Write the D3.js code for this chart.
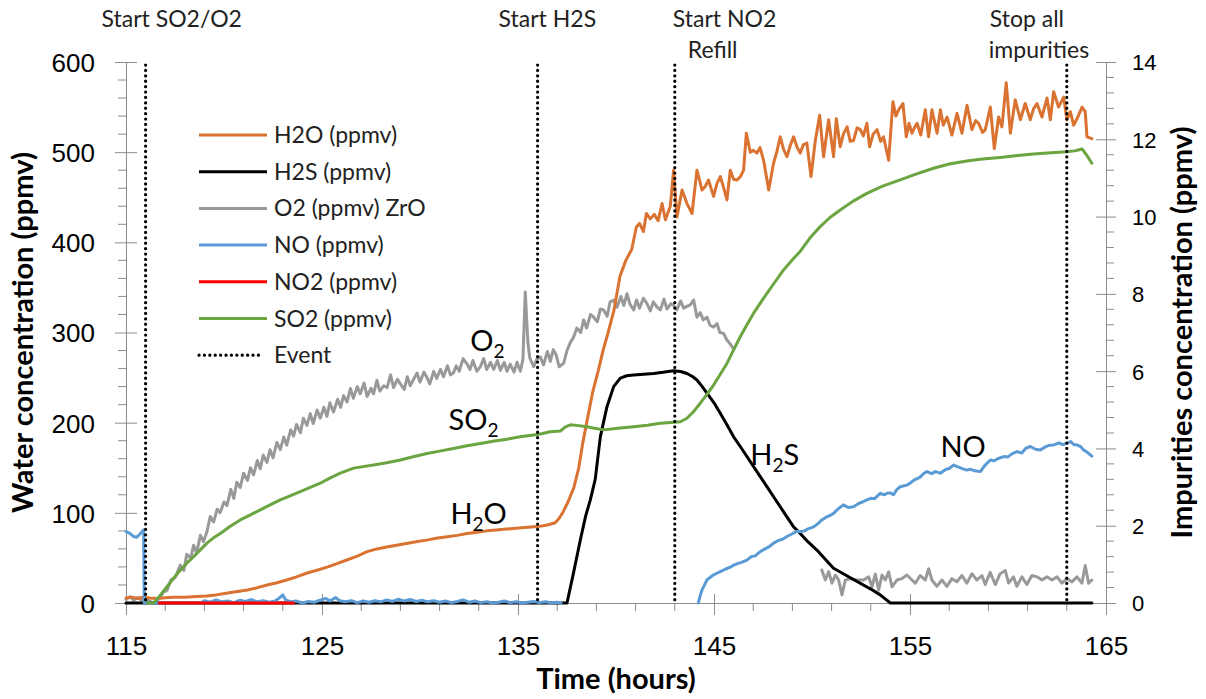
<!DOCTYPE html>
<html><head><meta charset="utf-8">
<script src="https://cdn.jsdelivr.net/npm/d3@7"></script>
<style>
html,body{margin:0;padding:0;background:#fff;}
svg{display:block;font-family:Lato,"Open Sans",sans-serif;}
</style></head><body>
<svg id="chart" width="1206" height="699"></svg>
<script>
// ---------------- DATA ----------------
const xTicks = [115, 125, 135, 145, 155, 165];
const leftTicks = [0, 100, 200, 300, 400, 500, 600];
const rightTicks = [0, 2, 4, 6, 8, 10, 12, 14];
const eventTimes = [116, 136, 143, 163];
const eventLabels = [["Start SO2/O2"], ["Start H2S"], ["Start NO2", "Refill"], ["Stop all", "impurities"]];
const legendNames = ["H2O (ppmv)", "H2S (ppmv)", "O2 (ppmv) ZrO", "NO (ppmv)", "NO2 (ppmv)", "SO2 (ppmv)", "Event"];

// H2O, ppmv (left axis)
const H2O = [[115.0,5.5],[115.3,6.5],[115.6,5.0],[115.9,6.8],[116.2,5.5],[116.6,5.0],[117.0,5.8],[117.4,6.3],[118.0,6.5],[118.6,7.2],[119.1,7.8],[119.6,9.0],[120.1,10.8],[120.6,12.5],[121.2,14.4],[121.7,17],[122.2,20],[122.7,22.5],[123.2,25.5],[123.7,29],[124.2,33],[124.7,36],[125.3,40],[125.8,44],[126.3,48],[126.8,52],[127.3,57],[127.8,60],[128.3,62],[128.8,64],[129.3,66],[129.8,68],[130.4,70],[130.9,72],[131.4,73.5],[131.9,75],[132.4,77],[132.9,78.5],[133.4,80],[133.9,81],[134.4,82],[134.9,83],[135.5,84],[136.1,85],[136.5,86.5],[136.9,89],[137.1,94],[137.3,101],[137.55,112],[137.85,128],[138.1,150],[138.3,177],[138.55,205],[138.8,233],[139.1,258],[139.35,281],[139.6,300],[139.9,325],[140.2,362],[140.5,380],[140.8,392],[141.04,417],[141.2,421],[141.4,412],[141.55,432],[141.75,426],[141.95,431],[142.15,424],[142.35,443],[142.52,425],[142.77,440],[142.94,480],[143.11,428],[143.37,458],[143.62,443],[143.88,432],[144.13,480],[144.39,458],[144.55,462],[144.72,469],[144.98,451],[145.15,465],[145.32,473],[145.5,460],[145.66,447],[145.83,480],[146.0,470],[146.17,469],[146.35,473],[146.51,480],[146.65,521],[146.85,500],[147.0,502],[147.19,499],[147.35,505],[147.53,491],[147.79,458],[148.04,488],[148.2,500],[148.38,517],[148.55,503],[148.72,495],[148.9,508],[149.06,517],[149.25,505],[149.4,499],[149.55,508],[149.74,510],[149.95,473],[150.17,513],[150.39,541],[150.59,495],[150.85,536],[151.1,495],[151.24,537],[151.44,506],[151.6,520],[151.79,528],[151.95,512],[152.12,513],[152.3,527],[152.46,525],[152.62,518],[152.8,532],[152.94,506],[153.12,520],[153.32,525],[153.5,512],[153.65,517],[153.91,491],[154.13,556],[154.28,540],[154.42,547],[154.64,554],[154.81,517],[154.95,532],[155.1,521],[155.25,528],[155.36,532],[155.55,519],[155.78,547],[155.95,517],[156.12,547],[156.38,521],[156.55,547],[156.7,530],[156.89,539],[157.14,519],[157.4,543],[157.65,521],[157.91,552],[158.16,525],[158.35,535],[158.5,532],[158.7,522],[158.84,525],[159.1,550],[159.3,504],[159.52,539],[159.69,528],[159.91,577],[160.12,521],[160.37,558],[160.63,536],[160.88,554],[161.14,536],[161.3,548],[161.48,554],[161.73,539],[161.99,560],[162.16,536],[162.33,567],[162.58,550],[162.84,561],[163.01,536],[163.18,545],[163.35,530],[163.52,537],[163.78,550],[163.94,545],[164.03,517],[164.28,515]];

// O2, ppmv (left axis); null = no data
const O2 = [[115.0,4],[115.2,7],[115.4,3],[115.6,6],[115.8,3],[116.0,5],[116.2,2],[116.4,0],[116.7,5],[116.9,12],[117.09,14],[117.3,26],[117.5,28],[117.77,42],[117.95,36],[118.1,54],[118.3,50],[118.45,64],[118.6,56],[118.8,75],[118.95,68],[119.13,79],[119.3,96],[119.47,90],[119.65,104],[119.8,100],[120.0,112],[120.15,108],[120.35,126],[120.5,116],[120.65,134],[120.83,128],[121.0,144],[121.2,136],[121.35,150],[121.51,142],[121.7,158],[121.85,149],[122.0,164],[122.19,156],[122.35,170],[122.5,161],[122.7,178],[122.87,170],[123.05,184],[123.2,175],[123.4,192],[123.55,185],[123.7,198],[123.9,189],[124.05,205],[124.23,197],[124.4,210],[124.55,199],[124.75,214],[124.91,205],[125.1,217],[125.25,207],[125.4,222],[125.59,212],[125.8,226],[125.95,217],[126.1,230],[126.28,223],[126.45,238],[126.6,227],[126.8,240],[126.95,232],[127.15,244],[127.3,229],[127.5,238],[127.63,232],[127.8,247],[127.95,235],[128.15,241],[128.32,239],[128.5,253],[128.65,239],[128.85,248],[129.0,243],[129.2,237],[129.35,251],[129.5,241],[129.67,248],[129.85,255],[130.0,245],[130.2,256],[130.36,250],[130.5,243],[130.7,257],[130.85,249],[131.04,259],[131.2,251],[131.4,263],[131.55,253],[131.7,255],[131.85,263],[132.0,257],[132.2,271],[132.4,265],[132.55,259],[132.7,269],[132.9,257],[133.08,262],[133.25,271],[133.4,259],[133.6,267],[133.76,259],[133.95,269],[134.1,258],[134.3,267],[134.44,257],[134.6,265],[134.8,256],[134.95,267],[135.12,257],[135.25,270],[135.37,345],[135.5,290],[135.6,272],[135.8,262],[135.95,270],[136.14,273],[136.3,264],[136.5,279],[136.65,268],[136.8,281],[136.95,275],[137.1,262],[137.33,266],[137.5,280],[137.65,288],[137.84,295],[138.0,305],[138.2,300],[138.35,314],[138.5,305],[138.7,320],[138.86,317],[139.05,312],[139.2,326],[139.37,325],[139.55,318],[139.7,334],[139.88,336],[140.05,328],[140.25,340],[140.4,330],[140.56,343],[140.72,331],[140.9,325],[141.05,336],[141.2,327],[141.4,338],[141.58,332],[141.75,324],[141.9,334],[142.1,328],[142.26,325],[142.45,337],[142.6,326],[142.8,332],[142.94,330],[143.1,325],[143.3,335],[143.45,327],[143.62,329],[143.8,331],[143.96,336],[144.13,317],[144.3,322],[144.45,314],[144.64,317],[144.8,308],[144.98,306],[145.15,310],[145.3,300],[145.49,299],[145.65,292],[145.8,288],[146.0,282],[148.0,null],
[150.5,36.6],[150.68,25.5],[150.85,34.8],[151.02,22],[151.19,31],[151.36,25.5],[151.53,9],[151.7,25.5],[151.95,27],[152.29,25.5],[152.63,25.5],[152.89,29],[153.06,18],[153.23,32],[153.4,14.5],[153.57,31],[153.74,25.5],[153.91,34.5],[154.08,18],[154.33,25.5],[154.59,27],[154.84,31],[155.1,25.5],[155.27,22],[155.52,30.5],[155.78,25.5],[155.95,38],[156.12,25.5],[156.37,18.5],[156.63,25.5],[156.88,18.5],[157.14,27],[157.39,23.5],[157.65,30.5],[157.9,22],[158.16,32.5],[158.41,25.5],[158.67,30.5],[158.84,20.5],[159.09,34],[159.35,20.5],[159.6,32.5],[159.86,36],[160.03,22],[160.28,29],[160.45,18.5],[160.71,29],[160.96,20.5],[161.22,30.5],[161.48,29],[161.73,25.5],[161.99,29],[162.24,25.5],[162.5,29],[162.75,22],[163.01,27],[163.26,23.5],[163.52,29],[163.77,22],[163.94,41.5],[164.11,22],[164.28,25.5]];

// H2S, ppmv (right axis)
const H2S = [[115,0],[137.5,0],[137.84,0.8],[138.18,1.63],[138.45,2.25],[138.69,2.67],[138.94,3.2],[139.2,4.3],[139.54,5.08],[139.88,5.6],[140.22,5.82],[140.55,5.88],[140.9,5.9],[141.4,5.92],[141.92,5.94],[142.4,5.97],[142.94,6.01],[143.3,5.99],[143.62,5.94],[143.9,5.86],[144.13,5.77],[144.4,5.6],[144.64,5.43],[145.0,5.18],[145.32,4.91],[145.66,4.61],[146.0,4.3],[146.34,4.05],[146.68,3.79],[147.02,3.53],[147.36,3.27],[147.7,3.01],[148.04,2.75],[148.55,2.36],[149.06,1.97],[149.4,1.8],[149.8,1.58],[150.25,1.37],[150.7,1.12],[151.1,0.9],[151.8,0.7],[152.46,0.51],[153.0,0.36],[153.48,0.21],[153.75,0.1],[154.0,0],[164.28,0]];

// NO, ppmv (right axis); null = no data
const NO = [[115.0,1.85],[115.2,1.8],[115.39,1.72],[115.55,1.7],[115.7,1.78],[115.9,1.89],[115.93,0],[118.8,0],[119.0,0.06],[119.3,0.02],[119.6,0.08],[119.9,0.03],[120.2,0.05],[120.5,0.01],[120.8,0.07],[121.1,0.04],[121.4,0.09],[121.7,0.03],[122.0,0.06],[122.3,0.02],[122.6,0.05],[122.8,0.12],[123.0,0.21],[123.15,0.08],[123.4,0.03],[123.7,0.05],[124.0,0.0],[124.3,0.04],[124.6,0.02],[124.9,0.07],[125.2,0.12],[125.4,0.05],[125.7,0.14],[125.9,0.06],[126.2,0.03],[126.5,0.06],[126.8,0.01],[127.1,0.05],[127.4,0.02],[127.7,0.06],[128.0,0.03],[128.3,0.08],[128.6,0.04],[128.9,0.1],[129.2,0.05],[129.5,0.09],[129.8,0.04],[130.1,0.07],[130.4,0.03],[130.7,0.06],[131.0,0.02],[131.3,0.05],[131.6,0.01],[131.9,0.04],[132.2,0.08],[132.5,0.02],[132.8,0.05],[133.1,0.01],[133.4,0.03],[133.7,0.0],[134.0,0.02],[134.3,0.05],[134.6,0.01],[134.9,0.03],[135.2,0.0],[135.5,0.02],[135.8,0.04],[136.1,0.01],[136.4,0.03],[136.7,0.0],[137.0,0.02],[137.2,0],[140,null],
[144.2,0],[144.3,0.2],[144.39,0.34],[144.5,0.45],[144.64,0.6],[144.8,0.66],[144.95,0.72],[145.15,0.77],[145.35,0.82],[145.6,0.88],[145.8,0.92],[146.0,0.98],[146.2,1.02],[146.4,1.05],[146.68,1.11],[146.9,1.2],[147.1,1.22],[147.36,1.33],[147.6,1.4],[147.8,1.45],[148.04,1.55],[148.3,1.62],[148.5,1.65],[148.72,1.72],[148.95,1.78],[149.2,1.85],[149.4,1.85],[149.6,1.86],[149.8,1.92],[150.08,1.97],[150.3,2.05],[150.5,2.15],[150.76,2.23],[150.9,2.26],[151.1,2.32],[151.3,2.42],[151.45,2.48],[151.6,2.54],[151.85,2.47],[152.12,2.49],[152.4,2.58],[152.6,2.62],[152.8,2.67],[153.0,2.71],[153.2,2.7],[153.48,2.84],[153.7,2.8],[153.83,2.84],[154.0,2.85],[154.16,2.8],[154.3,2.92],[154.5,3.01],[154.84,3.05],[155.0,3.1],[155.2,3.18],[155.5,3.25],[155.7,3.35],[155.87,3.4],[156.1,3.35],[156.3,3.4],[156.55,3.36],[156.8,3.45],[157.0,3.48],[157.23,3.57],[157.45,3.52],[157.7,3.47],[157.9,3.44],[158.1,3.46],[158.3,3.42],[158.59,3.4],[158.8,3.55],[159.1,3.7],[159.3,3.68],[159.5,3.74],[159.78,3.79],[160.0,3.78],[160.2,3.86],[160.46,3.92],[160.7,3.88],[160.9,4.0],[161.14,4.05],[161.4,3.98],[161.65,3.96],[161.9,4.04],[162.1,4.08],[162.33,4.09],[162.6,4.14],[162.8,4.1],[163.0,4.13],[163.2,4.18],[163.35,4.1],[163.5,4.09],[163.7,4.05],[163.86,3.96],[164.05,3.9],[164.28,3.8]];

// NO2, ppmv (right axis)
const NO2 = [[116.7,0],[120.0,0],[123.55,0]];

// SO2, ppmv (right axis)
const SO2 = [[116.1,0],[116.41,0],[116.75,0.2],[117.09,0.42],[117.43,0.64],[117.77,0.85],[118.1,1.03],[118.45,1.2],[118.8,1.38],[119.13,1.55],[119.45,1.68],[119.81,1.8],[120.3,1.98],[120.83,2.15],[121.35,2.28],[121.85,2.41],[122.35,2.54],[122.87,2.67],[123.4,2.78],[123.89,2.88],[124.4,2.99],[124.91,3.1],[125.4,3.23],[125.93,3.36],[126.61,3.49],[127.63,3.57],[128.3,3.63],[129.0,3.7],[129.7,3.79],[130.36,3.87],[131.0,3.93],[131.71,4.0],[132.4,4.07],[133.08,4.13],[133.8,4.19],[134.44,4.24],[135.1,4.3],[135.8,4.35],[136.2,4.38],[136.65,4.43],[137.16,4.45],[137.4,4.55],[137.67,4.61],[138.1,4.59],[138.52,4.56],[138.9,4.52],[139.37,4.48],[140.1,4.52],[140.9,4.56],[141.6,4.6],[142.26,4.65],[143.0,4.68],[143.28,4.69],[143.62,4.78],[143.95,4.95],[144.3,5.17],[144.64,5.4],[144.98,5.64],[145.32,5.92],[145.66,6.2],[146.0,6.55],[146.34,6.89],[146.68,7.2],[147.02,7.5],[147.36,7.76],[147.7,8.01],[148.1,8.3],[148.55,8.62],[149.0,8.88],[149.4,9.1],[149.9,9.45],[150.42,9.74],[150.9,9.97],[151.44,10.17],[152.1,10.4],[152.8,10.6],[153.6,10.79],[154.5,10.95],[155.3,11.1],[156.2,11.25],[157.0,11.36],[157.9,11.44],[158.7,11.49],[159.6,11.53],[160.5,11.58],[161.3,11.62],[162.2,11.65],[163.0,11.68],[163.4,11.7],[163.78,11.75],[164.0,11.6],[164.28,11.38]];

// in-plot annotations: [time, left-axis value of baseline, main text, subscript, trailing text]
const annotations = [[132.57, 279, "O", "2", ""], [131.46, 192, "SO", "2", ""], [131.55, 88, "H", "2", "O"], [146.85, 153, "H", "2", "S"], [156.55, 162, "NO", "", ""]];

// ---------------- CHART ----------------
const colors = {H2O:"#DA7331", H2S:"#000000", O2:"#999999", NO:"#5B9BD5", NO2:"#FF0000", SO2:"#6AA541"};
const svg = d3.select("#chart");
const L = 126, R = 1106, T = 62, B = 603;
const x = d3.scaleLinear().domain([115,165]).range([L,R]);
const yL = d3.scaleLinear().domain([0,600]).range([B,T]);
const yR = d3.scaleLinear().domain([0,14]).range([B,T]);
const axisColor = "#8c8c8c";

// minor ticks
const xMinor = d3.range(115,165.001,2).filter(v => !xTicks.includes(v));
const lMinor = d3.range(0,600.001,20).filter(v => !leftTicks.includes(Math.round(v)));
const rMinor = d3.range(0,14.001,0.4).filter(v => Math.abs(v/2 - Math.round(v/2)) > 0.01);

const gx = svg.append("g").attr("transform",`translate(0,${B})`)
  .call(d3.axisBottom(x).tickValues(xTicks).tickSize(12).tickSizeOuter(0).tickFormat(d3.format("d")));
gx.select(".domain").attr("stroke",axisColor);
gx.selectAll(".tick line").attr("stroke",axisColor).attr("y1",-9);
gx.selectAll(".tick text").attr("font-size",26).attr("fill","#000").attr("dy",0).attr("y",52);
gx.selectAll(".minor").data(xMinor).enter().append("line")
  .attr("x1",d=>x(d)).attr("x2",d=>x(d)).attr("y1",0).attr("y2",8).attr("stroke",axisColor);

const gl = svg.append("g").attr("transform",`translate(${L},0)`)
  .call(d3.axisLeft(yL).tickValues(leftTicks).tickSize(11).tickSizeOuter(0));
gl.select(".domain").attr("stroke",axisColor);
gl.selectAll(".tick line").attr("stroke",axisColor).attr("x1",11);
gl.selectAll(".tick text").attr("font-size",26).attr("fill","#000").attr("x",-31).attr("dy","0.36em");
gl.selectAll(".minor").data(lMinor).enter().append("line")
  .attr("x1",-8).attr("x2",0).attr("y1",d=>yL(d)).attr("y2",d=>yL(d)).attr("stroke",axisColor);

const gr = svg.append("g").attr("transform",`translate(${R},0)`)
  .call(d3.axisRight(yR).tickValues(rightTicks).tickSize(10).tickSizeOuter(0));
gr.select(".domain").attr("stroke",axisColor);
gr.selectAll(".tick line").attr("stroke",axisColor).attr("x1",-10);
gr.selectAll(".tick text").attr("font-size",22).attr("fill","#000").attr("x",26).attr("dy","0.36em");
gr.selectAll(".minor").data(rMinor).enter().append("line")
  .attr("x1",0).attr("x2",8).attr("y1",d=>yR(d)).attr("y2",d=>yR(d)).attr("stroke",axisColor);

// axis titles
svg.append("text").attr("transform",`translate(33,${(T+B)/2}) rotate(-90)`)
  .attr("text-anchor","middle").attr("font-size",29).attr("font-weight","bold").text("Water concentration (ppmv)");
svg.append("text").attr("transform",`translate(1192,${(T+B)/2}) rotate(-90)`)
  .attr("text-anchor","middle").attr("font-size",29).attr("font-weight","bold").text("Impurities concentration (ppmv)");
svg.append("text").attr("x",(L+R)/2).attr("y",689).attr("text-anchor","middle")
  .attr("font-size",29).attr("font-weight","bold").text("Time (hours)");

// series
const mk = (ys) => d3.line().defined(d => d[1] !== null).x(d => x(d[0])).y(d => ys(d[1]));
const series = [
  {data:O2, scale:yL, color:colors.O2},
  {data:H2O, scale:yL, color:colors.H2O},
  {data:H2S, scale:yR, color:colors.H2S},
  {data:NO, scale:yR, color:colors.NO},
  {data:NO2, scale:yR, color:colors.NO2},
  {data:SO2, scale:yR, color:colors.SO2}
];
series.forEach(s => {
  svg.append("path").datum(s.data).attr("d", mk(s.scale))
    .attr("fill","none").attr("stroke",s.color).attr("stroke-width",3)
    .attr("stroke-linejoin","round").attr("stroke-linecap","round");
});

// event lines
svg.selectAll(".ev").data(eventTimes).enter().append("line")
  .attr("x1",d=>x(d)).attr("x2",d=>x(d)).attr("y1",65).attr("y2",B)
  .attr("stroke","#000").attr("stroke-width",3.2).attr("stroke-linecap","round")
  .attr("stroke-dasharray","0.1 5.3");

// event labels (offsets from event line)
const evOffsets = [[-44,-44],[-39],[-2,13],[-77,-78]];
eventLabels.forEach((lines,i) => {
  lines.forEach((txt,j) => {
    svg.append("text").attr("x", x(eventTimes[i]) + evOffsets[i][j]).attr("y", 27 + j*31)
      .attr("font-size",23).attr("fill","#222").text(txt);
  });
});

// annotations
annotations.forEach(a => {
  const t = svg.append("text").attr("x",x(a[0])).attr("y",yL(a[1])).attr("font-size",29).attr("fill","#000");
  t.append("tspan").text(a[2]);
  if (a[3]) t.append("tspan").attr("font-size",19).attr("dy",7).text(a[3]);
  if (a[4]) t.append("tspan").attr("dy",-7).text(a[4]);
});

// legend
const legColors = [colors.H2O, colors.H2S, colors.O2, colors.NO, colors.NO2, colors.SO2, "#000"];
legendNames.forEach((name,i) => {
  const cy = 135 + i*36.7;
  const ln = svg.append("line").attr("x1",199).attr("x2",i===6?263:267).attr("y1",cy).attr("y2",cy)
    .attr("stroke",legColors[i]).attr("stroke-width",3);
  if (i===6) ln.attr("stroke-width",3.2).attr("stroke-linecap","round").attr("stroke-dasharray","0.1 5.3");
  svg.append("text").attr("x",274).attr("y",cy).attr("dy","0.35em").attr("font-size",23).attr("fill","#222").text(name);
});
</script>
</body></html>
